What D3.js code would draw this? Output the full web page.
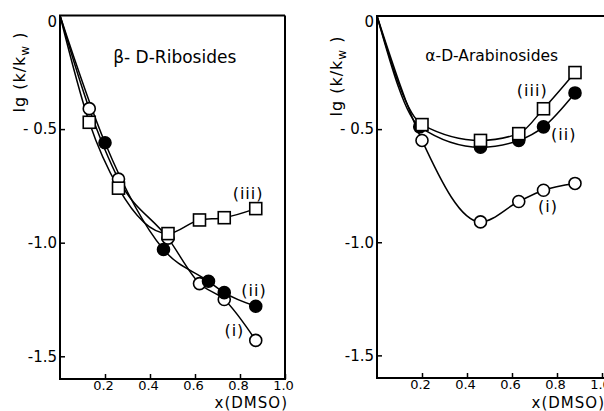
<!DOCTYPE html>
<html>
<head>
<meta charset="utf-8">
<script src="https://cdn.jsdelivr.net/npm/d3@7"></script>
<style>
  body { margin: 0; background: #fff; }
  svg { font-family: "DejaVu Sans", Arial, sans-serif; }
</style>
</head>
<body>
<svg id="chart" width="604" height="411"></svg>
<script>
// x(DMSO) tick values and labels
const xTicks = [0.2, 0.4, 0.6, 0.8, 1.0];
const xTickLabels = ["0.2", "0.4", "0.6", "0.8", "1.0"];
const yTicks = [0, -0.5, -1.0, -1.5];
const yTickLabels = ["0", "- 0.5", "-1.0", "-1.5"];

// beta-D-Ribosides
const riboTitle = "β- D-Ribosides";
const riboX_i = [0.13, 0.26, 0.48, 0.62, 0.73, 0.87];
const riboY_i = [-0.41, -0.72, -0.98, -1.18, -1.25, -1.43];
const riboX_ii = [0.20, 0.46, 0.66, 0.73, 0.87];
const riboY_ii = [-0.56, -1.03, -1.17, -1.22, -1.28];
const riboX_iii = [0.13, 0.26, 0.48, 0.62, 0.73, 0.87];
const riboY_iii = [-0.47, -0.76, -0.96, -0.90, -0.89, -0.85];

// alpha-D-Arabinosides
const araTitle = "α-D-Arabinosides";
const araX_i = [0.20, 0.46, 0.63, 0.74, 0.88];
const araY_i = [-0.55, -0.91, -0.82, -0.77, -0.74];
const araX_ii = [0.19, 0.46, 0.63, 0.74, 0.88];
const araY_ii = [-0.49, -0.58, -0.55, -0.49, -0.34];
const araX_iii = [0.20, 0.46, 0.63, 0.74, 0.88];
const araY_iii = [-0.48, -0.55, -0.52, -0.41, -0.25];

const seriesNames = ["(i)", "(ii)", "(iii)"];

const svg = d3.select("#chart");

function pts(xs, ys) {
    // every curve starts at the origin
    return [[0, 0]].concat(xs.map((x, i) => [x, ys[i]]));
}

function drawPanel(opt) {
    const x = d3.scaleLinear().domain([0, 1]).range(opt.xr);
    const y = d3.scaleLinear().domain([-1.6, 0]).range(opt.yr);
    const g = svg.append("g");

    // frame
    g.append("path")
        .attr("d", "M" + x(opt.frameRight) + "," + y(0) + "H" + x(0) + "V" + y(-1.6) + "H" + x(opt.frameRight) +
            (opt.closed ? "V" + y(0) : ""))
        .attr("fill", "none")
        .attr("stroke", "#000")
        .attr("stroke-width", 2);

    const xAxis = g.append("g")
        .attr("transform", "translate(0," + y(-1.6) + ")")
        .call(d3.axisBottom(x).tickValues(xTicks).tickSize(-5).tickPadding(2)
            .tickFormat((d, i) => xTickLabels[i]));
    const yAxis = g.append("g")
        .attr("transform", "translate(" + x(0) + ",0)")
        .call(d3.axisLeft(y).tickValues(yTicks).tickSize(-5).tickPadding(3)
            .tickFormat((d, i) => yTickLabels[i]));
    [xAxis, yAxis].forEach(a => {
        a.select(".domain").remove();
        a.selectAll(".tick line").attr("stroke-width", 1.5);
        a.selectAll(".tick text").attr("font-family", "DejaVu Sans, sans-serif").attr("fill", "#000");
    });
    xAxis.selectAll(".tick text").attr("font-size", 13).attr("dx", -2);
    yAxis.selectAll(".tick text").attr("font-size", 15);
    yAxis.select(".tick text").attr("dy", "0.7em");
    yAxis.selectAll(".tick").filter(d => d === 0).select("line").remove();

    // axis titles
    g.append("text")
        .attr("x", x(1) + 3).attr("y", 408)
        .attr("text-anchor", "end")
        .attr("font-size", 15)
        .attr("letter-spacing", 1)
        .text("x(DMSO)");
    const yt = g.append("text")
        .attr("transform", "translate(" + (x(0) - 35) + "," + opt.ytY + ") rotate(-90)")
        .attr("text-anchor", "middle")
        .attr("font-size", 16)
        .attr("letter-spacing", 1);
    yt.append("tspan").text("lg (k/k");
    yt.append("tspan").attr("font-size", 12).attr("dy", 4).text("w");
    yt.append("tspan").attr("dy", -4).text(" )");

    g.append("text")
        .attr("x", x(opt.titlePos[0])).attr("y", y(opt.titlePos[1]))
        .attr("text-anchor", "middle")
        .attr("font-size", opt.titleSize)
        .text(opt.title);

    const line = d3.line()
        .x(d => x(d[0]))
        .y(d => y(d[1]))
        .curve(d3.curveMonotoneX);

    opt.series.forEach(s => {
        g.append("path")
            .datum(pts(s.xs, s.ys))
            .attr("d", line)
            .attr("fill", "none")
            .attr("stroke", "#000")
            .attr("stroke-width", 1.5);
    });

    opt.series.forEach(s => {
        const data = s.xs.map((v, i) => [v, s.ys[i]]);
        if (s.marker === "square") {
            g.selectAll(null).data(data).join("rect")
                .attr("x", d => x(d[0]) - 6).attr("y", d => y(d[1]) - 6)
                .attr("width", 12).attr("height", 12)
                .attr("fill", "#fff").attr("stroke", "#000").attr("stroke-width", 1.6);
        } else {
            g.selectAll(null).data(data).join("circle")
                .attr("cx", d => x(d[0])).attr("cy", d => y(d[1]))
                .attr("r", 6)
                .attr("fill", s.marker === "filled" ? "#000" : "#fff")
                .attr("stroke", "#000").attr("stroke-width", 1.6);
        }
        g.append("text")
            .attr("x", x(s.label[0])).attr("y", y(s.label[1]))
            .attr("text-anchor", "middle")
            .attr("dominant-baseline", "central")
            .attr("font-size", 16)
            .attr("letter-spacing", 1)
            .text(s.name);
    });
}

drawPanel({
    xr: [60, 285], yr: [379, 15.5], frameRight: 1, closed: true, ytY: 72,
    title: riboTitle, titlePos: [0.51, -0.21], titleSize: 17,
    series: [
        {name: seriesNames[0], xs: riboX_i, ys: riboY_i, marker: "open", label: [0.775, -1.385]},
        {name: seriesNames[1], xs: riboX_ii, ys: riboY_ii, marker: "filled", label: [0.862, -1.21]},
        {name: seriesNames[2], xs: riboX_iii, ys: riboY_iii, marker: "square", label: [0.836, -0.785]}
    ]
});

drawPanel({
    xr: [377, 602], yr: [378, 16], frameRight: 1.05, closed: false, ytY: 76,
    title: araTitle, titlePos: [0.51, -0.2], titleSize: 15.5,
    series: [
        {name: seriesNames[0], xs: araX_i, ys: araY_i, marker: "open", label: [0.76, -0.844]},
        {name: seriesNames[1], xs: araX_ii, ys: araY_ii, marker: "filled", label: [0.83, -0.522]},
        {name: seriesNames[2], xs: araX_iii, ys: araY_iii, marker: "square", label: [0.69, -0.33]}
    ]
});
</script>
</body>
</html>
